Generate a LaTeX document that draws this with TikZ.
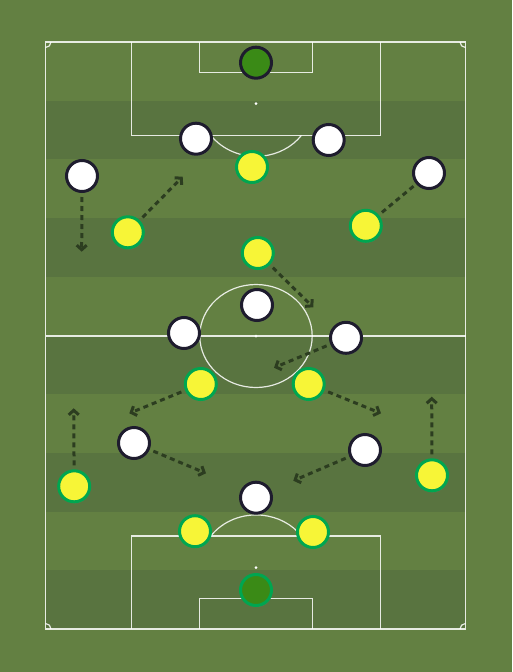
\documentclass[tikz,border=0pt]{standalone}
\usetikzlibrary{arrows.meta,shadows}
\definecolor{bgc}{RGB}{99,128,66}
\definecolor{stripec}{RGB}{89,116,64}
\definecolor{runc}{RGB}{44,61,32}
\definecolor{navyc}{RGB}{30,28,46}
\definecolor{yelc}{RGB}{247,245,55}
\definecolor{grnc}{RGB}{0,166,80}
\definecolor{gkc}{RGB}{58,138,22}
\pgfdeclarelayer{pitch}
\pgfdeclarelayer{runs}
\pgfsetlayers{pitch,runs,main}
\tikzset{
  pline/.style={draw=white,draw opacity=0.85,line width=1.2pt},
  player/.style={circle,minimum size=31pt,inner sep=0pt,line width=3pt,
    drop shadow={shadow xshift=0.6pt,shadow yshift=-1.6pt,opacity=0.25}},
  whitep/.style={player,draw=navyc,fill=white},
  yelp/.style={player,draw=grnc,fill=yelc},
  gkw/.style={player,draw=navyc,fill=gkc},
  gky/.style={player,draw=grnc,fill=gkc},
  run/.style={draw=runc,line width=3pt,dash pattern=on 5pt off 4pt,
    -{Straight Barb[length=4.5pt,width=10pt]},shorten <=4pt},
}
\begin{document}
\begin{tikzpicture}[x=1pt,y=-1pt]
\useasboundingbox (0,0) rectangle (512,672);
% players
\node[gkw]   (wgk) at (256,62.7) {};
\node[whitep] (w1) at (196,138.7) {};
\node[whitep] (w2) at (328.7,140) {};
\node[whitep] (w3) at (82,176) {};
\node[whitep] (w4) at (429,173) {};
\node[whitep] (w5) at (257,305) {};
\node[whitep] (w6) at (184,333) {};
\node[whitep] (w7) at (346,337.8) {};
\node[whitep] (w8) at (134,443) {};
\node[whitep] (w9) at (365,450) {};
\node[whitep] (w10) at (256,497.7) {};
\node[yelp] (y1) at (252,167) {};
\node[yelp] (y2) at (127.8,232.3) {};
\node[yelp] (y3) at (365.8,225.8) {};
\node[yelp] (y4) at (257.8,253) {};
\node[yelp] (y5) at (200.8,384) {};
\node[yelp] (y6) at (308.7,384) {};
\node[yelp] (y7) at (74.2,486.3) {};
\node[yelp] (y8) at (432,475.3) {};
\node[yelp] (y9) at (195,531.2) {};
\node[yelp] (y10) at (313,532) {};
\node[gky]  (ygk) at (256,590) {};
% run targets
\coordinate (t3) at (81.7,251.7);
\coordinate (t2) at (182.7,176.7);
\coordinate (ty3) at (427,175);
\coordinate (t4) at (313.3,307.3);
\coordinate (t7) at (274,367.7);
\coordinate (t5) at (129.3,413.3);
\coordinate (t6) at (381,413.3);
\coordinate (t8) at (73.7,408.3);
\coordinate (t9) at (431.7,396.7);
\coordinate (t10) at (206,473.3);
\coordinate (t11) at (293.3,480.7);
\begin{pgfonlayer}{runs}
\draw[run] (w3) -- (t3);
\draw[run] (y2) -- (t2);
\draw[run] (y3) -- (ty3);
\draw[run] (y4) -- (t4);
\draw[run] (w7) -- (t7);
\draw[run] (y5) -- (t5);
\draw[run] (y6) -- (t6);
\draw[run] (y7) -- (t8);
\draw[run] (y8) -- (t9);
\draw[run] (w8) -- (t10);
\draw[run] (w9) -- (t11);
\end{pgfonlayer}
\begin{pgfonlayer}{pitch}
\fill[bgc] (0,0) rectangle (512,672);
\foreach \k in {1,3,5,7,9}{
  \fill[stripec] (45.5,{42+58.7*\k}) rectangle (465.5,{42+58.7*(\k+1)});
}
% outline and halfway
\draw[pline] (45.5,42) rectangle (465.5,629);
\draw[pline] (45.5,336) -- (465.5,336);
% center circle and spot
\draw[pline] (256,336) ellipse [x radius=56.2,y radius=51.5];
\fill[white] (256,336) circle (1.5);
% top boxes
\draw[pline] (131.3,42) -- (131.3,135.3) -- (380.7,135.3) -- (380.7,42);
\draw[pline] (199.3,42) -- (199.3,72.7) -- (312.3,72.7) -- (312.3,42);
\fill[white] (256,103.7) circle (1.5);
\draw[pline] (210.8,135.3) arc [start angle=216.2,end angle=323.8,x radius=56.2,y radius=-51.5];
% bottom boxes
\draw[pline] (131.3,629) -- (131.3,536) -- (380.7,536) -- (380.7,629);
\draw[pline] (199.3,629) -- (199.3,598.3) -- (312.3,598.3) -- (312.3,629);
\fill[white] (256,567.7) circle (1.5);
\draw[pline] (210.8,536) arc [start angle=143.8,end angle=36.2,x radius=56.2,y radius=-51.5];
% corner arcs
\draw[pline] (51,42) arc [start angle=0,end angle=-90,x radius=5.5,y radius=-5.5];
\draw[pline] (460,42) arc [start angle=180,end angle=270,x radius=5.5,y radius=-5.5];
\draw[pline] (51,629) arc [start angle=0,end angle=90,x radius=5.5,y radius=-5.5];
\draw[pline] (460,629) arc [start angle=180,end angle=90,x radius=5.5,y radius=-5.5];
\end{pgfonlayer}
\end{tikzpicture}
\end{document}
